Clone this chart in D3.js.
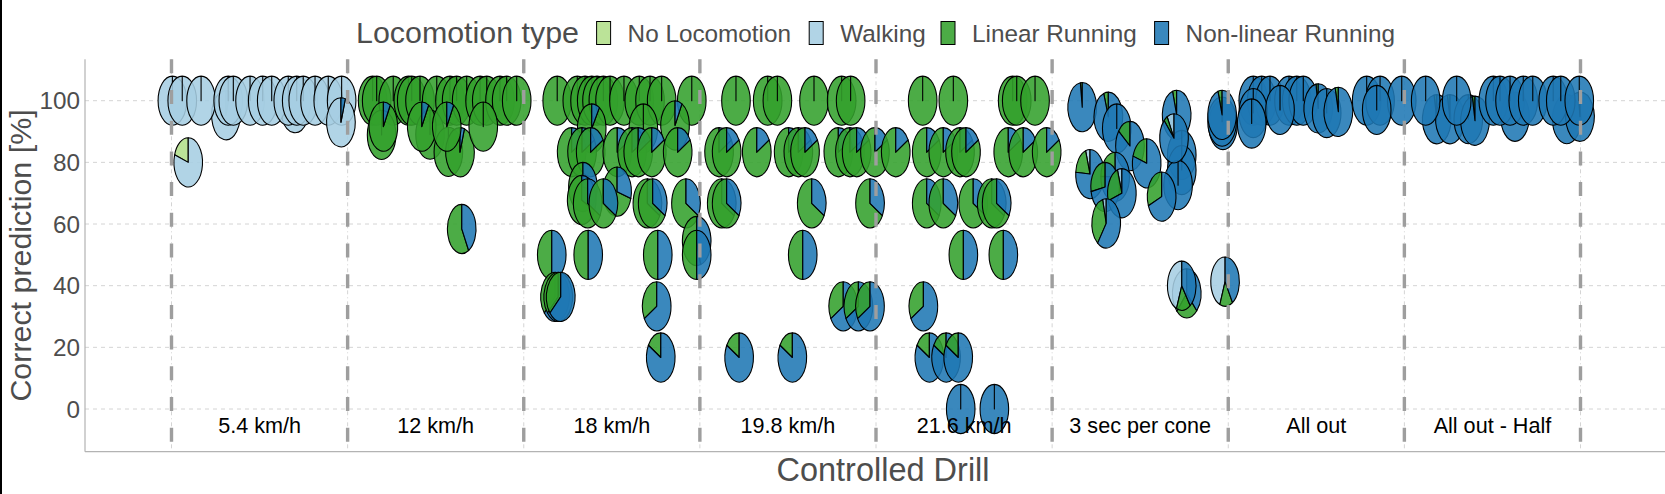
<!DOCTYPE html>
<html><head><meta charset="utf-8">
<script src="https://cdn.jsdelivr.net/npm/d3@7"></script>
<style>
body{margin:0;background:#fff}
svg{display:block}
text{font-family:"Liberation Sans",Arial,Helvetica,sans-serif}
</style>
</head><body>
<svg id="chart" width="1665" height="494"></svg>
<script>
// ---------------- DATA ----------------
const drills = ["5.4 km/h","12 km/h","18 km/h","19.8 km/h","21.6 km/h","3 sec per cone","All out","All out - Half"];
const types = ["No Locomotion","Walking","Linear Running","Non-linear Running"];
const typeColors = ["#b2df8a","#a6cee3","#33a02c","#1f78b4"];
const yTicks = [0,20,40,60,80,100];
const xTitle = "Controlled Drill";
const yTitle = "Correct prediction [%]";
const legendTitle = "Locomotion type";

// each pie: [x position, correct %, noLoco, walking, linear, non-linear]
const pies54 = [
  [0.809,95.3,0,0.953,0,0.047],[1.201,97.6,0,0.976,0,0.024],
  [0.505,100,0,1,0,0],[0.561,100,0,1,0,0],[0.668,100,0,1,0,0],[0.822,100,0,1,0,0],
  [0.851,100,0,1,0,0],[0.946,100,0,1,0,0],[1.018,100,0,1,0,0],[1.069,100,0,1,0,0],
  [1.163,100,0,1,0,0],[1.211,100,0,1,0,0],[1.248,100,0,1,0,0],[1.315,100,0,1,0,0],
  [1.390,100,0,1,0,0],[1.466,100,0,1,0,0],
  [1.462,93,0,0.95,0,0.05],[0.595,80,0.2,0.8,0,0]
];
const pies12 = [
  [1.642,100,0,0,1,0],[1.665,100,0,0,1,0],[1.759,100,0,0,1,0],[1.845,100,0,0,1,0],
  [1.864,100,0,0,1,0],[1.911,100,0,0,1,0],[2.006,100,0,0,1,0],[2.081,100,0,0,1,0],
  [2.119,100,0,0,1,0],[2.176,100,0,0,1,0],[2.252,100,0,0,1,0],[2.290,100,0,0,1,0],
  [2.365,100,0,0,1,0],[2.403,100,0,0,1,0],[2.460,100,0,0,1,0],
  [1.693,88.9,0,0,1,0],[1.968,89,0,0,1,0],
  [2.072,83.4,0,0,1,0],[2.138,83.3,0,0,0.95,0.05],
  [1.703,91.6,0,0,0.92,0.08],[1.921,91.6,0,0,0.92,0.08],[2.063,91.6,0,0,0.92,0.08],[2.270,91.6,0,0,1,0],
  [2.148,58.4,0,0,0.58,0.42]
];
const pies18 = [
  [2.690,100,0,0,1,0],[2.804,100,0,0,1,0],[2.848,100,0,0,1,0],[2.886,100,0,0,1,0],
  [2.916,100,0,0,1,0],[2.952,100,0,0,1,0],[2.990,100,0,0,1,0],[3.069,100,0,0,1,0],
  [3.156,100,0,0,1,0],[3.217,100,0,0,1,0],[3.283,100,0,0,1,0],[3.454,100,0,0,1,0],
  [2.886,91,0,0,0.91,0.09],[3.179,91,0,0,1,0],[3.359,92,0,0,0.92,0.08],
  [2.772,83.3,0,0,0.833,0.167],[2.831,83.3,0,0,0.833,0.167],[2.880,83.3,0,0,0.833,0.167],
  [3.031,83.3,0,0,0.833,0.167],[3.115,83.3,0,0,0.833,0.167],[3.150,83.3,0,0,0.833,0.167],
  [3.227,83.3,0,0,0.833,0.167],[3.374,83.3,0,0,0.833,0.167],
  [2.836,72,0,0,0.72,0.28],[3.030,70.5,0,0,0.705,0.295],
  [2.829,67.8,0,0,0.678,0.322],[2.863,66.7,0,0,0.667,0.333],[2.952,66.7,0,0,0.667,0.333],
  [3.202,66.7,0,0,0.667,0.333],[3.232,66.7,0,0,0.667,0.333],[3.421,66.7,0,0,0.667,0.333],
  [3.482,54.5,0,0,0.545,0.455],
  [2.659,50,0,0,0.5,0.5],[2.866,50,0,0,0.5,0.5],[3.261,50,0,0,0.5,0.5],[3.482,50,0,0,0.5,0.5],
  [2.678,36.4,0,0,0.364,0.636],[2.696,36.4,0,0,0.364,0.636],[2.710,36.4,0,0,0.364,0.636],
  [3.255,33.3,0,0,0.333,0.667],
  [3.278,16.7,0,0,0.167,0.833]
];
const pies198 = [
  [3.705,100,0,0,1,0],[3.885,100,0,0,1,0],[3.940,100,0,0,1,0],[4.148,100,0,0,1,0],
  [4.305,100,0,0,1,0],[4.356,100,0,0,1,0],
  [3.609,83.3,0,0,0.833,0.167],[3.652,83.3,0,0,0.833,0.167],[3.823,83.3,0,0,0.833,0.167],
  [4.004,83.3,0,0,0.833,0.167],[4.059,83.3,0,0,0.833,0.167],[4.097,83.3,0,0,0.833,0.167],
  [4.286,83.3,0,0,0.833,0.167],[4.352,83.3,0,0,0.833,0.167],[4.390,83.3,0,0,0.833,0.167],
  [4.494,83.3,0,0,0.833,0.167],
  [3.624,66.7,0,0,0.667,0.333],[3.652,66.7,0,0,0.667,0.333],[4.135,66.7,0,0,0.667,0.333],
  [4.466,66.7,0,0,0.667,0.333],
  [4.084,50,0,0,0.5,0.5],
  [4.314,33.3,0,0,0.333,0.667],[4.400,33.3,0,0,0.333,0.667],[4.466,33.3,0,0,0.333,0.667],
  [3.723,16.7,0,0,0.167,0.833],[4.025,16.7,0,0,0.167,0.833]
];
const pies216 = [
  [4.765,100,0,0,1,0],[4.939,100,0,0,1,0],[5.276,100,0,0,1,0],[5.299,100,0,0,1,0],
  [5.403,100,0,0,1,0],
  [4.612,83.3,0,0,0.833,0.167],[4.788,83.3,0,0,0.833,0.167],[4.882,83.3,0,0,0.833,0.167],
  [4.977,83.3,0,0,0.833,0.167],[5.011,83.3,0,0,0.833,0.167],[5.251,83.3,0,0,0.833,0.167],
  [5.336,83.3,0,0,0.833,0.167],[5.469,83.3,0,0,0.833,0.167],
  [4.788,66.7,0,0,0.667,0.333],[4.882,66.7,0,0,0.667,0.333],[5.052,66.7,0,0,0.667,0.333],
  [5.157,66.7,0,0,0.667,0.333],[5.185,66.7,0,0,0.667,0.333],
  [4.996,50,0,0,0.5,0.5],[5.223,50,0,0,0.5,0.5],
  [4.769,33.3,0,0,0.333,0.667],
  [4.803,16.7,0,0,0.167,0.833],[4.898,16.7,0,0,0.167,0.833],[4.967,16.7,0,0,0.167,0.833],
  [4.981,0,0,0,0,1],[5.172,0,0,0,0,1]
];
const piesCone = [
  [5.671,97.9,0,0,0.021,0.979],[5.819,94.8,0,0,0.052,0.948],[5.867,91,0,0,0,1],
  [6.207,95.4,0,0,0.046,0.954],
  [6.470,92.1,0,0,0,1],[6.465,93.2,0,0,0,1],[6.465,95.4,0,0,0.046,0.954],
  [6.236,82.4,0,0,0,1],[6.236,77.5,0,0,0,1],[6.215,72.6,0,0,0,1],
  [5.942,85.3,0,0,0.147,0.853],[6.192,87.8,0,0.08,0.042,0.878],
  [6.037,79.7,0,0,0.203,0.797],
  [5.715,76.2,0,0.05,0.188,0.762],[5.858,75.3,0,0,0.247,0.753],[5.801,72,0,0,0.28,0.72],
  [5.896,70,0,0.05,0.25,0.70],[6.122,68.9,0,0,0.311,0.689],
  [5.807,60.2,0,0.04,0.358,0.602],
  [6.264,37.5,0,0.38,0.245,0.375],[6.236,40,0,0.44,0.16,0.40],[6.482,41.3,0,0.44,0.147,0.413]
];
const piesAllOut = [
  [6.642,100,0,0,0,1],[6.690,100,0,0,0,1],[6.737,100,0,0,0,1],[6.845,100,0,0,0,1],
  [6.889,100,0,0,0,1],[6.926,100,0,0,0,1],[7.286,100,0,0,0,1],[7.362,100,0,0,0,1],
  [7.485,100,0,0,0,1],
  [6.642,96,0,0,0,1],[6.633,92.6,0,0,0,1],[6.794,97,0,0,0,1],
  [7.011,97.5,0,0,0.025,0.975],[7.059,96,0,0,0,1],[7.125,96.4,0,0,0.036,0.964],[7.343,97,0,0,0,1]
];
const piesHalf = [
  [7.684,94,0,0,0.03,0.97],[7.759,94,0,0,0.03,0.97],[7.863,94,0,0,0,1],[7.901,93.5,0,0,0.03,0.97],
  [8.128,94.8,0,0,0,1],[8.422,94,0,0,0,1],[8.497,94.8,0,0,0.02,0.98],
  [7.621,100,0,0,0,1],[7.797,100,0,0,0,1],[8.005,100,0,0,0,1],[8.043,100,0,0,0,1],
  [8.100,100,0,0,0,1],[8.175,100,0,0,0,1],[8.229,100,0,0,0,1],[8.345,100,0,0,0,1],
  [8.388,100,0,0,0,1],[8.493,100,0,0,0,1]
];

// ---------------- LAYOUT ----------------
const W = 1665, H = 494;
const panel = {left: 85, right: 1665, top: 59.3, bottom: 451.7};
const svg = d3.select("#chart");

const xScale = d3.scaleLinear().domain([0.5, 8.5]).range([171.5, 1580.5]);
const yScale = d3.scaleLinear().domain([0, 100]).range([409, 100.7]);
const boundaries = d3.range(0.5, 9, 1);

// left border line
svg.append("line").attr("x1",1).attr("x2",1).attr("y1",0).attr("y2",H)
  .attr("stroke","#000").attr("stroke-width",2);

// grid
const grid = svg.append("g");
grid.selectAll("line.h").data(yTicks).join("line")
  .attr("x1", panel.left).attr("x2", panel.right)
  .attr("y1", d => yScale(d)).attr("y2", d => yScale(d))
  .attr("stroke", "#d4d4d4").attr("stroke-width", 1).attr("stroke-dasharray", "4,4");
grid.selectAll("line.v").data(boundaries).join("line")
  .attr("x1", d => xScale(d)).attr("x2", d => xScale(d))
  .attr("y1", panel.top).attr("y2", panel.bottom)
  .attr("stroke", "#d4d4d4").attr("stroke-width", 1).attr("stroke-dasharray", "4,3,1,3");

// axes lines
svg.append("line").attr("x1", panel.left).attr("x2", panel.left)
  .attr("y1", panel.top).attr("y2", panel.bottom).attr("stroke", "#b3b3b3").attr("stroke-width", 1.2);
svg.append("line").attr("x1", panel.left).attr("x2", panel.right)
  .attr("y1", panel.bottom).attr("y2", panel.bottom).attr("stroke", "#b3b3b3").attr("stroke-width", 1.2);

// y tick labels
svg.append("g").selectAll("text").data(yTicks).join("text")
  .attr("x", panel.left - 5).attr("y", d => yScale(d)).attr("dy", "0.36em")
  .attr("text-anchor", "end").attr("font-size", 24.3).attr("fill", "#4d4d4d")
  .text(d => d);

// pies
const rx = 14.3, ry = 24.6, alpha = 0.88;
const allPies = [pies54, pies12, pies18, pies198, pies216, piesCone, piesAllOut, piesHalf].flat();
const pieLayer = svg.append("g");
allPies.forEach(p => {
  const [x, y, ...fr] = p;
  const pg = pieLayer.append("g")
    .attr("transform", `translate(${xScale(x)},${yScale(y)}) scale(${rx},${ry})`);
  let a = -Math.PI / 2;
  fr.forEach((f, i) => {
    if (f <= 0) return;
    const a1 = a - f * 2 * Math.PI;
    const path = d3.path();
    path.moveTo(0, 0);
    path.lineTo(Math.cos(a), Math.sin(a));
    path.arc(0, 0, 1, a, a1, true);
    path.closePath();
    pg.append("path").attr("d", path.toString())
      .attr("fill", typeColors[i]).attr("fill-opacity", alpha)
      .attr("stroke", "#000").attr("stroke-width", 1.1)
      .attr("stroke-linejoin", "round")
      .attr("vector-effect", "non-scaling-stroke");
    a = a1;
  });
});

// thick dashed drill separators
svg.append("g").selectAll("line").data(boundaries).join("line")
  .attr("x1", d => xScale(d)).attr("x2", d => xScale(d))
  .attr("y1", panel.top).attr("y2", panel.bottom)
  .attr("stroke", "#9e9e9e").attr("stroke-width", 3.4).attr("stroke-dasharray", "14,16.7");

// drill labels
svg.append("g").selectAll("text").data(drills).join("text")
  .attr("x", (d, i) => xScale(i + 1)).attr("y", 432.5)
  .attr("text-anchor", "middle").attr("font-size", 21.6).attr("fill", "#000")
  .text(d => d);

// axis titles
svg.append("text").attr("x", 883).attr("y", 481)
  .attr("text-anchor", "middle").attr("font-size", 32.5).attr("fill", "#4d4d4d").text(xTitle);
svg.append("text").attr("transform", `translate(31,${(panel.top + panel.bottom) / 2}) rotate(-90)`)
  .attr("text-anchor", "middle").attr("font-size", 30.4).attr("fill", "#4d4d4d").text(yTitle);

// legend
const legend = svg.append("g");
legend.append("text").attr("x", 356).attr("y", 43).attr("font-size", 30.4).attr("fill", "#4d4d4d").text(legendTitle);
const textX = [627.6, 840.2, 972, 1185.6];
types.forEach((t, i) => {
  legend.append("rect").attr("x", textX[i] - 31).attr("y", 21.5).attr("width", 14).attr("height", 23)
    .attr("fill", typeColors[i]).attr("fill-opacity", alpha).attr("stroke", "#000").attr("stroke-width", 1);
  legend.append("text").attr("x", textX[i]).attr("y", 41.8).attr("font-size", 24.3)
    .attr("fill", "#4d4d4d").text(t);
});
</script>
</body></html>
